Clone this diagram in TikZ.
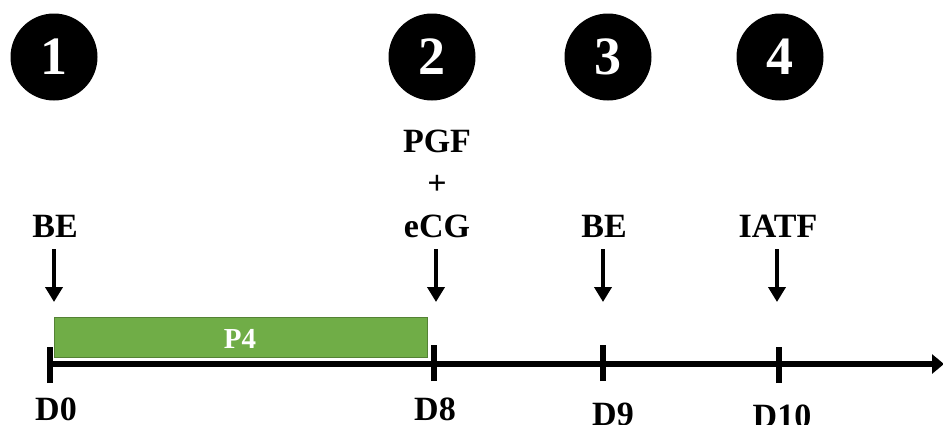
\documentclass[tikz,border=0pt]{standalone}
\usepackage{fontspec}
\setmainfont{Liberation Serif}
\usetikzlibrary{arrows.meta}

\definecolor{barfill}{HTML}{70AD47}
\definecolor{barline}{HTML}{548235}

\begin{document}
\begin{tikzpicture}[x=1pt,y=-1pt,
  lbl/.style={font=\fontsize{34}{38}\selectfont\bfseries, inner sep=0pt, anchor=base},
  stepnum/.style={circle, fill=black, minimum size=87pt, inner sep=0pt,
    text=white, font=\fontsize{54}{56}\selectfont\bfseries},
  drop/.style={line width=4pt, -{Triangle[width=17pt,length=15pt]}},
  tickmark/.style={line width=5.5pt},
  axis/.style={line width=6pt, -{Triangle[width=19pt,length=12pt]}},
  bar/.style={fill=barfill, draw=barline, line width=1.2pt}
]
\useasboundingbox (0,0) rectangle (943,424);

% numbered steps
\node[stepnum] (s1) at (54,57) {1};
\node[stepnum] (s2) at (432,57) {2};
\node[stepnum] (s3) at (608,57) {3};
\node[stepnum] (s4) at (780,57) {4};

% P4 device period
\node[bar, minimum width=373pt, minimum height=40pt, inner sep=0pt,
  anchor=north west] (p4) at (54,317) {};
\node[font=\fontsize{29}{32}\selectfont\bfseries, text=white, inner sep=0pt,
  anchor=base] (p4txt) at (240,348) {P4};

% time axis and day ticks
\coordinate (t0) at (49,364);
\coordinate (tend) at (944,364);
\draw[axis] (t0) -- (tend);
\coordinate (d0) at (50,364);
\coordinate (d8) at (434,364);
\coordinate (d9) at (603,364);
\coordinate (d10) at (779,364);
\draw[tickmark] ([yshift=-19pt]d0) -- ([yshift=17pt]d0);
\draw[tickmark] ([yshift=-17pt]d8) -- ([yshift=19pt]d8);
\draw[tickmark] ([yshift=-17pt]d9) -- ([yshift=19pt]d9);
\draw[tickmark] ([yshift=-19pt]d10) -- ([yshift=17pt]d10);

% day labels
\node[lbl] (l0) at (56,420) {D0};
\node[lbl] (l8) at (435,420) {D8};
\node[lbl] (l9) at (613,425) {D9};
\node[lbl] (l10) at (782,427) {D10};

% treatments
\node[lbl] (be1) at (55,237) {BE};
\node[lbl] (pgf) at (437,152) {PGF};
\node[lbl] (plus) at (437,194) {+};
\node[lbl] (ecg) at (437,237) {eCG};
\node[lbl] (be2) at (604,237) {BE};
\node[lbl] (iatf) at (778,237) {IATF};

% treatment arrows
\coordinate (a1) at (54,302);
\coordinate (a2) at (436,302);
\coordinate (a3) at (603,302);
\coordinate (a4) at (777,302);
\draw[drop] (54,249) -- (a1);
\draw[drop] (436,249) -- (a2);
\draw[drop] (603,249) -- (a3);
\draw[drop] (777,249) -- (a4);
\end{tikzpicture}
\end{document}
